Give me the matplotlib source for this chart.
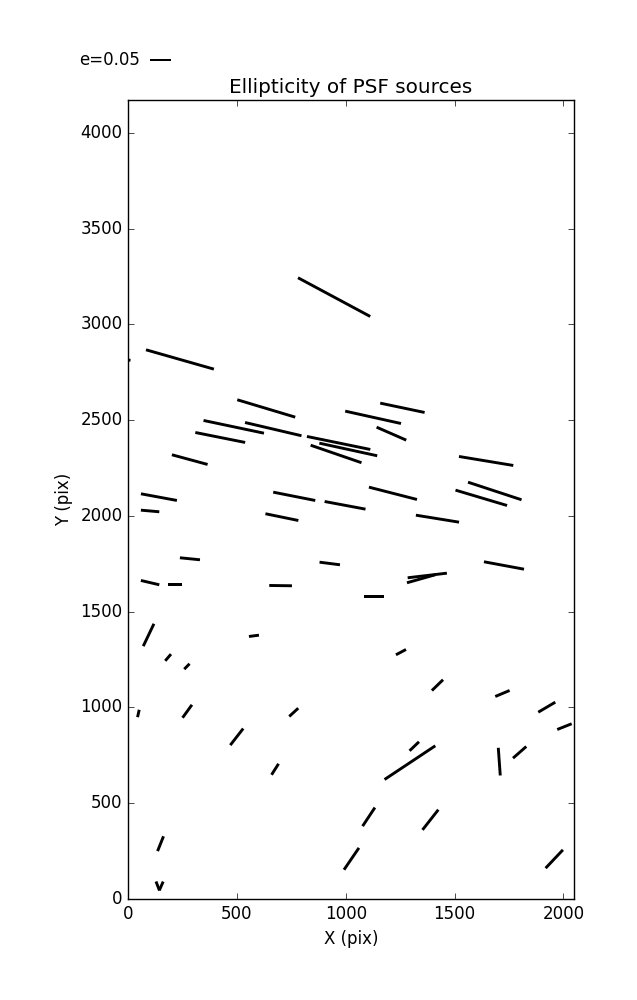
import numpy as np
import matplotlib
matplotlib.use('Agg')
import matplotlib.pyplot as plt

# PSF star positions (pix), ellipticity and position angle (deg, screen)
x_pix = [946.5, 238.4, 634.8, 485.5, 423.5, 667.0, 1125.6, 1260.2, 1209.7,
         967.2, 1011.5, 955.4, 283.4, 1644.7, 141.9, 101.3, 763.4, 996.8,
         1216.8, 1622.4, 1684.4, 706.7, 1421.2, 284.3, 926.5, 1726.7, 101.3,
         216.1, 700.7, 1128.6, 1374.4, 1346.1, 94.4, 578.3, 184.0, 270.3,
         1253.6, 1421.2, 1719.6, 47.5, 271.9, 761.1, 1923.3, 2004.4, 499.3,
         1314.7, 1294.7, 1705.1, 1798.6, 675.2, 1105.6, 1388.8, 149.3, 1026.2,
         1957.7, 136.4, 152.5, -8.0]
y_pix = [3142.8, 2817.2, 2561.4, 2465.5, 2409.9, 2453.5, 2515.1, 2564.8, 2429.8,
         2381.2, 2347.3, 2323.8, 2294.3, 2287.2, 2098.4, 2026.1, 2102.6, 2055.6,
         2118.3, 2094.8, 2130.5, 1994.0, 1985.9, 1776.5, 1751.9, 1741.5, 1652.0,
         1642.3, 1636.3, 1579.6, 1689.3, 1672.1, 1378.6, 1374.2, 1261.1, 1214.1,
         1289.0, 1116.7, 1073.1, 968.7, 980.2, 974.7, 1001.6, 900.0, 846.7,
         797.4, 712.0, 717.2, 765.8, 677.3, 429.0, 413.6, 288.8, 209.9,
         208.9, 67.9, 67.9, 2815.0]
ell = [0.195, 0.168, 0.144, 0.147, 0.121, 0.138, 0.136, 0.108, 0.077,
       0.154, 0.141, 0.128, 0.088, 0.131, 0.087, 0.044, 0.102, 0.099,
       0.118, 0.128, 0.134, 0.080, 0.104, 0.048, 0.049, 0.097, 0.045,
       0.033, 0.054, 0.047, 0.094, 0.070, 0.059, 0.024, 0.021, 0.018,
       0.027, 0.037, 0.037, 0.018, 0.038, 0.029, 0.047, 0.037, 0.050,
       0.031, 0.145, 0.066, 0.042, 0.031, 0.053, 0.061, 0.038, 0.063,
       0.060, 0.023, 0.023, 0.020]
pa = [-28.2, -15.9, -16.7, -11.9, -11.3, -13.2, -12.5, -11.9, -23.6,
      -11.6, -12.3, -19.0, -15.2, -9.4, -10.5, -5.0, -11.2, -10.6,
      -14.4, -16.6, -18.2, -11.6, -9.2, -5.7, -7.3, -10.5, -13.2,
      0.0, -0.8, 0.0, 6.7, 15.8, 64.5, 7.4, 49.2, 45.5,
      27.9, 44.2, 22.8, 77.1, 54.1, 42.7, 30.5, 21.7, 52.1,
      43.8, 33.6, -85.9, 41.3, 57.5, 56.5, 51.9, 68.2, 55.7,
      46.6, -69.0, 66.0, -5.0]

x = np.array(x_pix)
y = np.array(y_pix)
e = np.array(ell)
theta = np.radians(pa)
u = e * np.cos(theta)
v = e * np.sin(theta)

plt.style.use('classic')
fig = plt.figure(figsize=(6.37, 10), dpi=100, facecolor='white')
ax = fig.add_axes([0.201, 0.101, 0.70, 0.799])

q = ax.quiver(x, y, u, v, angles='uv', pivot='middle', color='k',
              headwidth=0, headlength=0, headaxislength=0,
              scale_units='inches', scale=0.238, width=0.0065)
ax.quiverkey(q, 0.2355, 0.94, 0.05, 'e=0.05', labelpos='W',
             coordinates='figure', fontproperties={'size': 12})

ax.set_xlim(0, 2048)
ax.set_ylim(0, 4172)
ax.set_xticks([0, 500, 1000, 1500, 2000])
ax.set_yticks(np.arange(0, 4001, 500))
ax.set_xlabel('X (pix)')
ax.set_ylabel('Y (pix)')
ax.set_title('Ellipticity of PSF sources')

fig.savefig('out.png', dpi=100, facecolor='white')
